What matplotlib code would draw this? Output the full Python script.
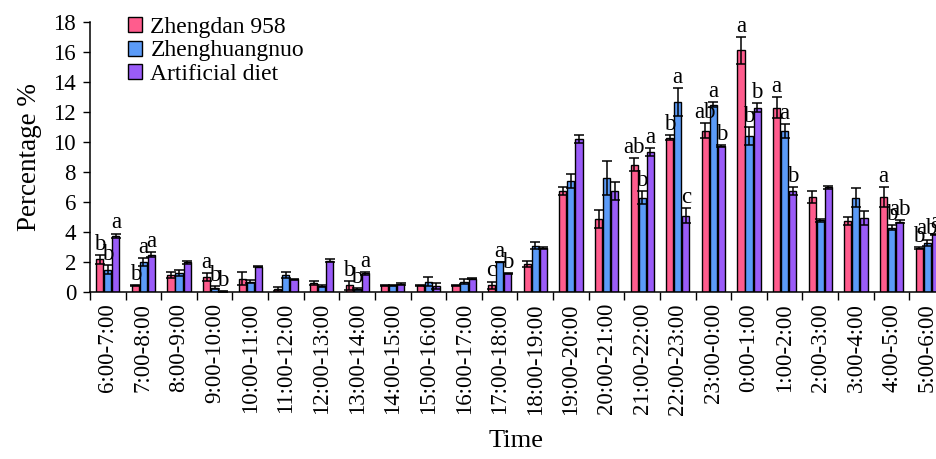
import numpy as np
import matplotlib
matplotlib.use("Agg")
import matplotlib.pyplot as plt

plt.rcParams["font.family"] = ["Liberation Serif", "DejaVu Serif"]

# hourly percentage for each diet, with SE and significance letters
horas = ["6:00-7:00", "7:00-8:00", "8:00-9:00", "9:00-10:00", "10:00-11:00",
         "11:00-12:00", "12:00-13:00", "13:00-14:00", "14:00-15:00", "15:00-16:00",
         "16:00-17:00", "17:00-18:00", "18:00-19:00", "19:00-20:00", "20:00-21:00",
         "21:00-22:00", "22:00-23:00", "23:00-0:00", "0:00-1:00", "1:00-2:00",
         "2:00-3:00", "3:00-4:00", "4:00-5:00", "5:00-6:00"]

zd958 = [2.2, 0.45, 1.15, 1.0, 0.9, 0.2, 0.6, 0.45, 0.45, 0.45, 0.45, 0.45,
         1.9, 6.75, 4.85, 8.5, 10.3, 10.75, 16.1, 12.3, 6.35, 4.75, 6.35, 2.95]
zd958_err = [0.3, 0.03, 0.2, 0.25, 0.45, 0.15, 0.15, 0.3, 0.05, 0.05, 0.05, 0.25,
             0.2, 0.25, 0.6, 0.45, 0.15, 0.5, 0.9, 0.7, 0.4, 0.25, 0.65, 0.05]

zhg = [1.5, 2.0, 1.25, 0.3, 0.7, 1.15, 0.4, 0.2, 0.45, 0.7, 0.7, 2.0,
       3.1, 7.4, 7.6, 6.3, 12.65, 12.5, 10.4, 10.75, 4.8, 6.3, 4.3, 3.3]
zhg_err = [0.3, 0.25, 0.2, 0.1, 0.1, 0.2, 0.05, 0.05, 0.05, 0.3, 0.15, 0.03,
           0.25, 0.45, 1.15, 0.45, 0.95, 0.15, 0.6, 0.45, 0.1, 0.65, 0.15, 0.2]

art = [3.75, 2.5, 2.0, 0.05, 1.7, 0.85, 2.1, 1.25, 0.55, 0.4, 0.9, 1.25,
       2.95, 10.2, 6.75, 9.35, 5.1, 9.75, 12.3, 6.75, 7.0, 4.95, 4.7, 3.85]
art_err = [0.15, 0.15, 0.1, 0.02, 0.05, 0.05, 0.1, 0.1, 0.05, 0.2, 0.05, 0.03,
           0.05, 0.25, 0.6, 0.25, 0.5, 0.05, 0.3, 0.25, 0.1, 0.45, 0.1, 0.05]

let958 = ["b", "b", "", "a", "", "", "", "b", "", "", "", "c",
          "", "", "", "ab", "b", "ab", "a", "a", "", "", "a", "b"]
letzhg = ["b", "a", "", "b", "", "", "", "b", "", "", "", "a",
          "", "", "", "b", "a", "a", "b", "a", "", "", "b", "ab"]
letart = ["a", "a", "", "b", "", "", "", "a", "", "", "", "b",
          "", "", "", "a", "c", "b", "b", "b", "", "", "ab", "a"]

series = [
    ("Zhengdan 958", zd958, zd958_err, let958, "#FF5C8D"),
    ("Zhenghuangnuo", zhg, zhg_err, letzhg, "#5B9BF8"),
    ("Artificial diet", art, art_err, letart, "#9A5CF8"),
]

fig = plt.figure(figsize=(9.37, 4.59), dpi=100)
ax = fig.add_axes([90 / 937, 1 - 292 / 459, 855 / 937, 270 / 459])

x = np.arange(len(horas))
largura = 0.2
passo = 0.225

for i, (nome, vals, errs, letras, cor) in enumerate(series):
    pos = x + (i - 1) * passo
    ax.bar(pos, vals, width=largura, color=cor, edgecolor="black",
           linewidth=1.0, label=nome, zorder=2)
    ax.errorbar(pos, vals, yerr=errs, fmt="none", ecolor="black",
                elinewidth=1.1, capsize=3.8, capthick=1.1, zorder=3)
    for p, v, e, t in zip(pos, vals, errs, letras):
        if t:
            ax.annotate(t, (p, v + e), xytext=(0, 0), textcoords="offset points",
                        ha="center", va="bottom", fontsize=16.5, clip_on=False)

ax.set_xlim(-0.5, len(horas) - 0.5)
ax.set_ylim(0, 18)
ax.set_yticks(np.arange(0, 19, 2))
ax.set_xticks(x)
ax.set_xticklabels(horas, rotation=90, fontsize=16.5)
ax.set_xticks(np.arange(-0.5, len(horas), 1), minor=True)
ax.tick_params(axis="x", which="major", length=0, pad=8)
ax.tick_params(axis="x", which="minor", length=6, width=1, direction="out")
ax.tick_params(axis="y", labelsize=16.5, length=5, width=1, direction="out", pad=5)

ax.spines["top"].set_visible(False)
ax.spines["right"].set_visible(False)
for s in ["left", "bottom"]:
    ax.spines[s].set_linewidth(1.1)

ax.set_ylabel("Percentage %", fontsize=19.5, labelpad=8)
fig.text(516 / 937, 1 - 441 / 459, "Time", fontsize=19, ha="center", va="center")

ax.legend(loc="upper left", bbox_to_anchor=(128 / 937, 1 - 17 / 459),
          bbox_transform=fig.transFigure, frameon=False, fontsize=17,
          handlelength=0.6, handleheight=0.6, handletextpad=0.35,
          labelspacing=0.1, borderpad=0, borderaxespad=0)

fig.savefig("out.png", dpi=100)
